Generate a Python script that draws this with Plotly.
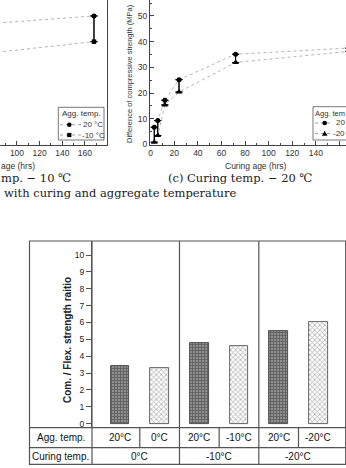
import plotly.graph_objects as go

W, H = 346, 468

# ---------------- data ----------------
# (b) curing temp. -10 °C (only right part visible)
b_age = [72, 168]
b_agg20 = [46.9, 50.0]
b_aggm10 = [35.4, 40.0]

# (c) curing temp. -20 °C
c_age = [3, 6, 12, 24, 72, 168]
c_agg20 = [6.7, 9.3, 17.2, 25.2, 35.1, 37.5]
c_aggm20 = [0.9, 3.5, 15.4, 20.4, 31.9, 36.2]

# compressive / flexural strength ratio
agg_temp_labels = ["20°C", "0°C", "20°C", "-10°C", "20°C", "-20°C"]
ratio_values = [3.4, 3.3, 4.8, 4.6, 5.5, 6.0]
curing_temp_labels = ["0°C", "-10°C", "-20°C"]
ratio_ticks = list(range(0, 11))


def px(x):
    return x / W


def py(y):
    return 1 - y / H


AX = "#444444"
TXT = "#333333"
SANS = "Arial, Liberation Sans, sans-serif"
SERIF = "DejaVu Serif, serif"
dot_line = dict(color="#b4b4b4", width=1, dash="dot")

fig = go.Figure()


def pair_traces(x, upper, lower, lower_symbol, lower_size, xa, ya):
    diff = [u - l for u, l in zip(upper, lower)]
    zeros = [0] * len(diff)
    fig.add_trace(go.Scatter(
        x=x, y=upper, mode="lines+markers", line=dot_line,
        marker=dict(symbol="circle", size=5, color="black"),
        error_y=dict(type="data", symmetric=False, array=zeros, arrayminus=diff,
                     width=3.5, thickness=1, color="black"),
        xaxis=xa, yaxis=ya, showlegend=False, cliponaxis=False))
    fig.add_trace(go.Scatter(
        x=x, y=lower, mode="lines+markers", line=dot_line,
        marker=dict(symbol=lower_symbol, size=lower_size, color="black"),
        error_y=dict(type="data", symmetric=False, array=diff, arrayminus=zeros,
                     width=3.5, thickness=1, color="black"),
        xaxis=xa, yaxis=ya, showlegend=False, cliponaxis=False))


pair_traces(b_age, b_agg20, b_aggm10, "square", 4.5, "x", "y")
pair_traces(c_age, c_agg20, c_aggm20, "triangle-up", 6, "x2", "y2")

# bars
dark_idx = [i for i in range(len(ratio_values)) if i % 2 == 0]
light_idx = [i for i in range(len(ratio_values)) if i % 2 == 1]
fig.add_trace(go.Bar(
    x=dark_idx, y=[ratio_values[i] for i in dark_idx], width=0.47,
    marker=dict(color="#8c8c8c", line=dict(color="#333333", width=0.8),
                pattern=dict(shape="+", fgcolor="#2a2a2a", bgcolor="#8f8f8f",
                             size=3, solidity=0.45)),
    xaxis="x3", yaxis="y3", showlegend=False))
fig.add_trace(go.Bar(
    x=light_idx, y=[ratio_values[i] for i in light_idx], width=0.47,
    marker=dict(color="white", line=dict(color="#444444", width=0.8),
                pattern=dict(shape="x", fgcolor="#555555", bgcolor="white",
                             size=3.5, solidity=0.4)),
    xaxis="x3", yaxis="y3", showlegend=False))

top_x_common = dict(
    showline=True, linecolor=AX, linewidth=1, ticks="inside", ticklen=4,
    tickcolor=AX, tick0=0, dtick=20, showgrid=False, zeroline=False,
    minor=dict(ticks="inside", ticklen=2, dtick=10, tickcolor=AX),
    tickfont=dict(size=8.5, color=TXT, family=SANS))

fig.update_layout(
    width=W, height=H, margin=dict(l=0, r=0, t=0, b=0, autoexpand=False),
    paper_bgcolor="white", plot_bgcolor="white", bargap=0,
    font=dict(family=SANS, color=TXT),
    xaxis=dict(domain=[0, px(107)], range=[85, 179.5], anchor="y", **top_x_common),
    yaxis=dict(domain=[py(145), 1], range=[-0.2, 56.2], anchor="x", side="right",
               showline=True, linecolor=AX, linewidth=1, ticks="",
               showticklabels=False, showgrid=False, zeroline=False),
    xaxis2=dict(domain=[px(150), 1], range=[-0.6, 165.6], anchor="y2", **top_x_common),
    yaxis2=dict(domain=[py(145), 1], range=[-0.2, 56.2], anchor="x2",
                showline=True, linecolor=AX, linewidth=1, ticks="inside", ticklen=4,
                tickcolor=AX, tick0=0, dtick=10, showgrid=False, zeroline=False,
                minor=dict(ticks="inside", ticklen=2, dtick=5, tickcolor=AX),
                tickfont=dict(size=8.5, color=TXT, family=SANS)),
    xaxis3=dict(domain=[px(92), px(345.7)], range=[-0.705, 5.69], anchor="y3",
                showline=False, ticks="", showticklabels=False, showgrid=False,
                zeroline=False),
    yaxis3=dict(domain=[py(427.7), py(241)], range=[-0.24, 10.83], anchor="x3",
                tickvals=ratio_ticks, showline=True, linecolor="#555555", linewidth=1.2,
                ticks="outside", ticklen=5, tickcolor="#555555", showgrid=False,
                zeroline=False, tickfont=dict(size=8.5, color="#222222", family=SANS)),
)

shapes = []
GRID = dict(color="#555555", width=1.2)


def pline(x0, y0, x1, y1, line=GRID, xref="paper", yref="paper"):
    shapes.append(dict(type="line", xref=xref, yref=yref, x0=x0, y0=y0, x1=x1, y1=y1,
                       line=line))


# table / frame of ratio chart
shapes.append(dict(type="rect", xref="paper", yref="paper", x0=px(29.5), y0=py(464.3),
                   x1=px(345.7), y1=py(241), line=GRID))
pline(px(29.5), py(427.7), px(345.7), py(427.7))
pline(px(29.5), py(447.7), px(345.7), py(447.7))
pline(px(92), py(241), px(92), py(464.3))
for g in range(1, len(curing_temp_labels)):
    xb = 2 * g - 0.5
    pline(xb, py(241), xb, py(464.3), xref="x3")
for g in range(len(curing_temp_labels)):
    xb = 2 * g + 0.5
    pline(xb, py(427.7), xb, py(447.7), xref="x3")

# legends of top charts (drawn manually)
LEG = dict(color="#555555", width=0.8)
shapes.append(dict(type="rect", xref="paper", yref="paper", x0=px(58.3), y0=py(140),
                   x1=px(104), y1=py(107.3), line=LEG))
shapes.append(dict(type="path", xref="paper", yref="paper",
                   path=f"M {px(346)},{py(106.7)} L {px(313)},{py(106.7)} "
                        f"L {px(313)},{py(140)} L {px(346)},{py(140)}",
                   line=LEG))


def leg_line(x0, x1, y):
    pline(px(x0), py(y), px(x1), py(y), line=dict(color="#a0a0a0", width=1, dash="dot"))


def circle(cx, cy, r):
    shapes.append(dict(type="circle", xref="paper", yref="paper", x0=px(cx - r),
                       x1=px(cx + r), y0=py(cy + r), y1=py(cy - r),
                       fillcolor="black", line=dict(width=0)))


def square(cx, cy, r):
    shapes.append(dict(type="rect", xref="paper", yref="paper", x0=px(cx - r),
                       x1=px(cx + r), y0=py(cy + r), y1=py(cy - r),
                       fillcolor="black", line=dict(width=0)))


def triangle(cx, cy, r):
    shapes.append(dict(type="path", xref="paper", yref="paper",
                       path=f"M {px(cx - r)},{py(cy + r * 0.8)} L {px(cx + r)},{py(cy + r * 0.8)} "
                            f"L {px(cx)},{py(cy - r)} Z",
                       fillcolor="black", line=dict(width=0)))


leg_line(60, 81, 124.7)
leg_line(60, 81, 135)
circle(69.3, 124.7, 2.3)
square(69.3, 135, 2.1)
leg_line(315, 333, 123)
leg_line(315, 333, 133.5)
circle(324.7, 123, 2.3)
triangle(324.7, 133.5, 2.8)

fig.update_layout(shapes=shapes)

ann = []


def text(t, x, y, size, xanchor="left", family=SANS, color=TXT, xref="paper",
         angle=0, bold=False):
    ann.append(dict(text=f"<b>{t}</b>" if bold else t, x=x, y=y, xref=xref,
                    yref="paper", xanchor=xanchor, yanchor="middle", showarrow=False,
                    textangle=angle, font=dict(size=size, family=family, color=color)))


# legend texts (right legend is cut by the page edge in the reference)
text("Agg. temp.", px(60), py(113.3), 8)
text("20 °C", px(81), py(124.7), 8)
text("-10 °C", px(79.5), py(135), 8)
text("Agg. tem", px(313.3), py(113), 7.5)
text("20", px(333.5), py(123), 8)
text("-20", px(331), py(133.5), 8)

# axis titles of top charts
text("age (hrs)", px(-1), py(165.5), 8.5)
text("Curing age (hrs)", px(256), py(166), 8.5, xanchor="center")
text("Difference of compressive strength (MPa)", px(129.5), py(73.5), 7.5,
     xanchor="center", angle=-90)

# captions
text("mp. − 10 ℃", px(-1), py(178.3), 11.5, family=SERIF, color="#222222")
text("(c) Curing temp. − 20 ℃", px(165.5), py(178.3), 11.5, family=SERIF,
     color="#222222")
text("with curing and aggregate temperature", px(1.5), py(193.3), 11.5,
     family=SERIF, color="#222222")

# ratio chart y title
text("Com. / Flex. strength raitio", px(67), py(340), 10, xanchor="center",
     angle=-90, bold=True, color="#222222")

# table texts
text("Agg. temp.", px(60.75), py(437.7), 10, xanchor="center", color="#111111")
text("Curing temp.", px(60.75), py(456), 10, xanchor="center", color="#111111")
for i, lab in enumerate(agg_temp_labels):
    text(lab, i, py(437.7), 10, xanchor="center", xref="x3", color="#111111")
for g, lab in enumerate(curing_temp_labels):
    text(lab, 2 * g + 0.5, py(456), 10, xanchor="center", xref="x3", color="#111111")

fig.update_layout(annotations=ann)

fig.write_html("out.html")
